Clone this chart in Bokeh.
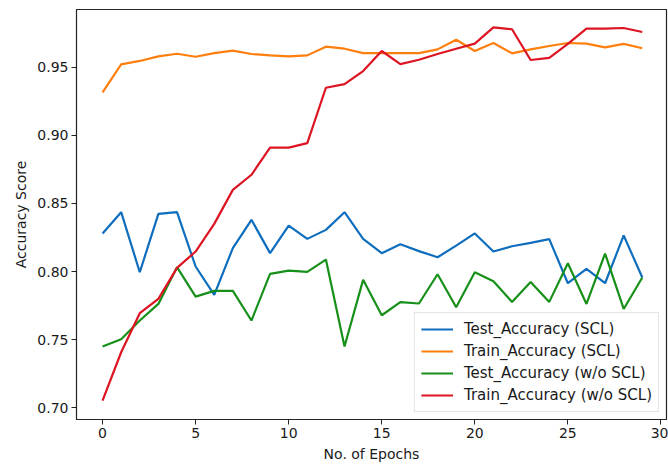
from bokeh.plotting import figure
from bokeh.models import Range1d, FixedTicker, Legend, LegendItem, PrintfTickFormatter
from bokeh.embed import file_html
from bokeh.resources import INLINE

epochs = list(range(30))
test_scl = [0.828, 0.8436, 0.7995, 0.8424, 0.8436, 0.8037, 0.7829, 0.8172, 0.838, 0.8135,
            0.8338, 0.824, 0.8306, 0.8436, 0.824, 0.8135, 0.820, 0.815, 0.8105, 0.819,
            0.828, 0.8147, 0.8186, 0.821, 0.8238, 0.7914, 0.802, 0.7914, 0.8265, 0.7956]
train_scl = [0.9316, 0.9522, 0.9547, 0.9581, 0.960, 0.9578, 0.9605, 0.9623, 0.9598, 0.9588,
             0.958, 0.9588, 0.9652, 0.9637, 0.9605, 0.9605, 0.9605, 0.9605, 0.9632, 0.9703,
             0.962, 0.9679, 0.9603, 0.9632, 0.9657, 0.9679, 0.9674, 0.9647, 0.9672, 0.964]
test_wo = [0.7449, 0.7502, 0.764, 0.7762, 0.8032, 0.7816, 0.7858, 0.7858, 0.764, 0.7983,
           0.8007, 0.7998, 0.8088, 0.7449, 0.7939, 0.7679, 0.7775, 0.7765, 0.798, 0.7738,
           0.7995, 0.7929, 0.7777, 0.7924, 0.7777, 0.8061, 0.7762, 0.8132, 0.7725, 0.7956]
train_wo = [0.7051, 0.7407, 0.7694, 0.7799, 0.8027, 0.8147, 0.835, 0.860, 0.8711, 0.891,
            0.891, 0.8943, 0.935, 0.9377, 0.9473, 0.962, 0.9524, 0.9556, 0.9598, 0.9637,
            0.9674, 0.9794, 0.978, 0.9554, 0.9569, 0.9672, 0.9784, 0.9784, 0.9789, 0.976]

series_labels = ["Test_Accuracy (SCL)", "Train_Accuracy (SCL)",
                 "Test_Accuracy (w/o SCL)", "Train_Accuracy (w/o SCL)"]
x_ticks = [0, 5, 10, 15, 20, 25, 30]
y_ticks = [0.70, 0.75, 0.80, 0.85, 0.90, 0.95]

colors = ["#0e6ebd", "#ff7f0e", "#17901a", "#dd1422"]
FONT = "DejaVu Sans"

p = figure(width=668, height=465, output_backend="svg", toolbar_location=None,
           x_range=Range1d(-1.4, 30.3), y_range=Range1d(0.6913, 0.9925),
           min_border_left=76, min_border_right=2, min_border_top=9, min_border_bottom=46)

renderers = []
for ys, c in zip([test_scl, train_scl, test_wo, train_wo], colors):
    r = p.line(epochs, ys, line_color=c, line_width=2.2)
    renderers.append(r)

legend = Legend(items=[LegendItem(label=l, renderers=[r]) for l, r in zip(series_labels, renderers)],
                location="bottom_right", margin=7, padding=6, spacing=2,
                glyph_width=32, glyph_height=20, label_height=20, label_standoff=11,
                label_text_font=FONT, label_text_font_size="15px", label_text_color="#1a1a1a",
                border_line_color="#cccccc", border_line_width=1,
                background_fill_color="white", background_fill_alpha=0.8)
p.add_layout(legend)

p.xgrid.visible = False
p.ygrid.visible = False
p.outline_line_color = "#222222"
p.outline_line_width = 1.2

p.xaxis.ticker = FixedTicker(ticks=x_ticks)
p.yaxis.ticker = FixedTicker(ticks=y_ticks)
p.yaxis.formatter = PrintfTickFormatter(format="%.2f")
for ax in (p.xaxis, p.yaxis):
    ax.major_tick_in = 0
    ax.major_tick_out = 5
    ax.minor_tick_out = 0
    ax.minor_tick_in = 0
    ax.axis_line_color = "#222222"
    ax.major_tick_line_color = "#222222"
    ax.major_label_text_font = FONT
    ax.major_label_text_font_size = "14px"
    ax.major_label_text_color = "#1a1a1a"
    ax.axis_label_text_font = FONT
    ax.axis_label_text_font_size = "14px"
    ax.axis_label_text_font_style = "normal"
    ax.axis_label_text_color = "#1a1a1a"
    ax.major_label_standoff = 3
    ax.axis_label_standoff = 5

p.xaxis.axis_label = "No. of Epochs"
p.yaxis.axis_label = "Accuracy Score"

open("out.html", "w").write(file_html(p, INLINE))
